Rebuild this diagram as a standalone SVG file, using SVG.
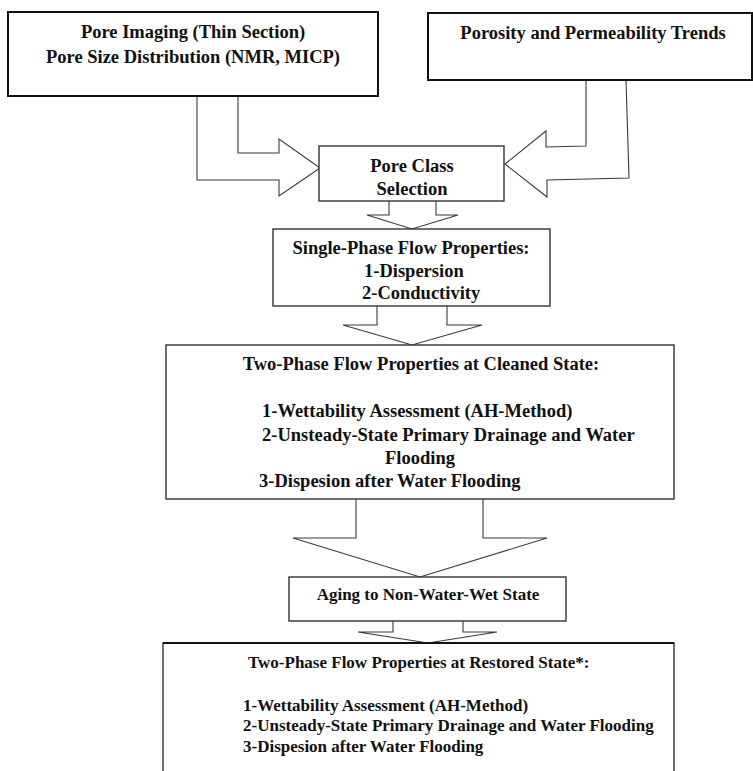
<svg xmlns="http://www.w3.org/2000/svg" width="753" height="771" viewBox="0 0 753 771">
  <style>
    .box { fill: #ffffff; stroke: #333333; stroke-width: 1.4; }
    .heavy { stroke: #111111; stroke-width: 2; }
    .arrow { fill: none; stroke: #3a3a3a; stroke-width: 1.1; stroke-linejoin: miter; }
    text { font-family: "Liberation Serif", "Times New Roman", serif; font-weight: bold; fill: #111111; }
    .t18 { font-size: 18.5px; }
    .t17 { font-size: 17px; }
    .mid { text-anchor: middle; }
  </style>

  <rect width="753" height="771" fill="#ffffff"/>

  <!-- block arrows between the stages -->
  <g id="connectors">
    <polyline class="arrow" points="197,96 197,180 279,180 279,196 320,168 279,139 279,153 238,153 238,96"/>
    <polyline class="arrow" points="586,80 586,146 546,147 546,131 505,164 547,197 547,180 629,178 626,80"/>
    <polyline class="arrow" points="389,201 389,215 367,215 412,229 458,215 436,215 436,201"/>
    <polyline class="arrow" points="377,306 377,325 343,325 412,345 482,325 447,325 447,306"/>
    <polyline class="arrow" points="356,499 356,538 293,538 420,577 547,538 483,538 483,499"/>
    <polyline class="arrow" points="393,621 393,632 358,632 428,643 497,632 463,632 463,621"/>
  </g>

  <g id="pore-imaging">
    <rect class="box heavy" x="8" y="12" width="370" height="84"/>
    <text class="t18 mid" x="193" y="38">Pore Imaging (Thin Section)</text>
    <text class="t18 mid" x="193" y="63">Pore Size Distribution (NMR, MICP)</text>
  </g>

  <g id="porosity-permeability">
    <rect class="box heavy" x="428" y="13" width="324" height="67"/>
    <text class="t18 mid" x="593" y="39">Porosity and Permeability Trends</text>
  </g>

  <g id="pore-class">
    <rect class="box" x="319" y="146" width="185" height="55"/>
    <text class="t18 mid" x="412" y="172">Pore Class</text>
    <text class="t18 mid" x="412" y="195">Selection</text>
  </g>

  <g id="single-phase">
    <rect class="box" x="273" y="229" width="277" height="77"/>
    <text class="t18 mid" x="411" y="254">Single-Phase Flow Properties:</text>
    <text class="t18" x="364" y="277">1-Dispersion</text>
    <text class="t18" x="362" y="299">2-Conductivity</text>
  </g>

  <g id="two-phase-cleaned">
    <rect class="box" x="166" y="345" width="508" height="154"/>
    <text class="t18 mid" x="421" y="370">Two-Phase Flow Properties at Cleaned State:</text>
    <text class="t18" x="262" y="417">1-Wettability Assessment (AH-Method)</text>
    <text class="t18" x="262" y="441">2-Unsteady-State Primary Drainage and Water</text>
    <text class="t18 mid" x="420" y="464">Flooding</text>
    <text class="t18" x="259" y="487">3-Dispesion after Water Flooding</text>
  </g>

  <g id="aging">
    <rect class="box" x="289" y="577" width="277" height="44"/>
    <text class="t17 mid" x="428" y="600">Aging to Non-Water-Wet State</text>
  </g>

  <g id="two-phase-restored">
    <rect class="box" x="163" y="643" width="511" height="140"/>
    <line class="heavy" x1="163" y1="643" x2="674" y2="643"/>
    <text class="t17" x="248" y="668">Two-Phase Flow Properties at Restored State*:</text>
    <text class="t17" x="243" y="711">1-Wettability Assessment (AH-Method)</text>
    <text class="t17" x="243" y="731">2-Unsteady-State Primary Drainage and Water Flooding</text>
    <text class="t17" x="243" y="752">3-Dispesion after Water Flooding</text>
  </g>
</svg>
